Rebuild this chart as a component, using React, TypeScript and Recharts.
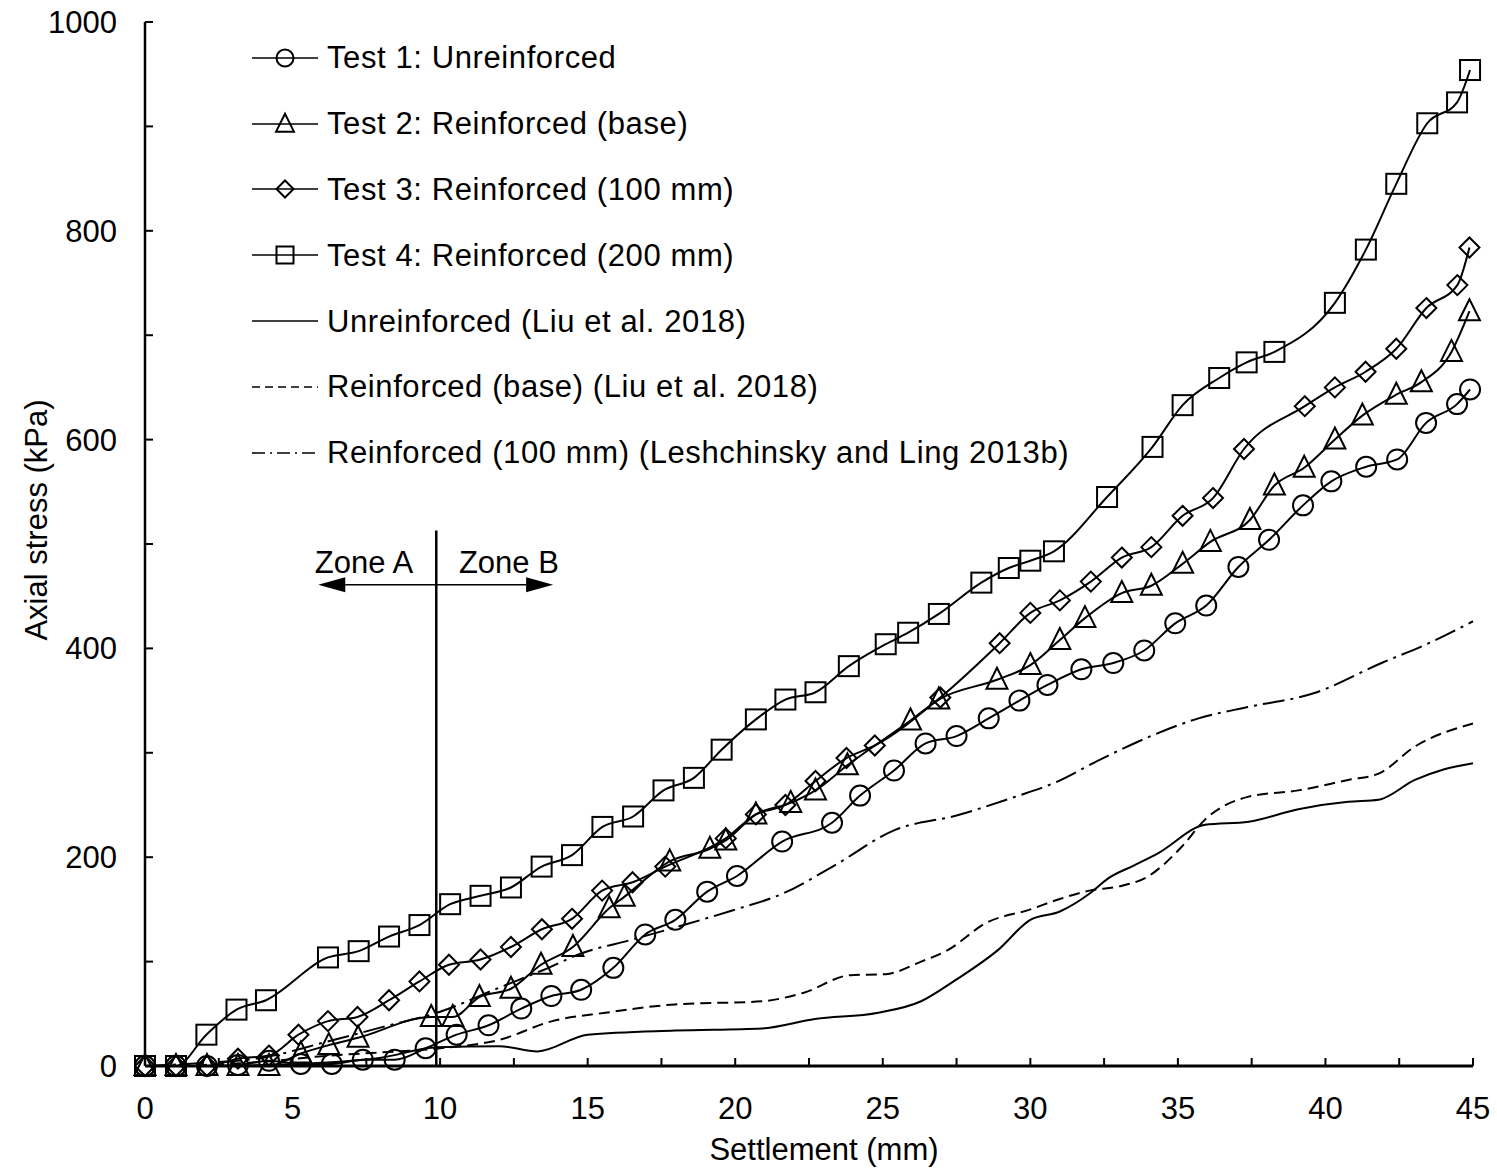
import React from 'react';
import { LineChart, Line, XAxis, YAxis, ReferenceLine, ReferenceDot, Legend } from 'recharts';

const FONT = '"Liberation Sans", Arial, Helvetica, sans-serif';
const FONT_SIZE = 31;

// Test 1: Unreinforced (circles)
const test1X = [0, 1.05, 2.1, 3.15, 4.2, 5.28, 6.33, 7.38, 8.46, 9.51, 10.56, 11.64, 12.75, 13.77, 14.78, 15.87, 16.95, 17.97, 19.05, 20.06, 21.59, 23.28, 24.23, 25.38, 26.45, 27.5, 28.59, 29.63, 30.58, 31.73, 32.81, 33.86, 34.91, 35.96, 37.05, 38.09, 39.24, 40.2, 41.38, 42.43, 43.41, 44.46, 44.9];
const test1Y = [0, 0, 0, 1, 5, 2, 2, 6, 6, 17, 30, 39, 55, 67, 73, 94, 126, 140, 167, 182, 215, 233, 259, 283, 309, 316, 333, 350, 365, 380, 386, 398, 424, 441, 478, 504, 537, 560, 574, 581, 616, 634, 648];

// Test 2: Reinforced (base) (triangles)
const test2X = [0, 1.05, 2.1, 3.15, 4.2, 5.28, 6.23, 7.22, 9.7, 10.43, 11.33, 12.4, 13.42, 14.5, 15.73, 16.24, 17.78, 19.14, 19.68, 20.7, 21.88, 22.72, 23.8, 25.94, 26.9, 28.87, 30.0, 31.0, 31.85, 33.1, 34.1, 35.16, 36.1, 37.44, 38.27, 39.28, 40.32, 41.25, 42.4, 43.25, 44.27, 44.88];
const test2Y = [0, 0, 0, 0, 0, 12, 20, 27, 47, 47, 66, 74, 97, 114, 151, 162, 196, 208, 216, 241, 252, 264, 288, 331, 351, 370, 384, 408, 429, 453, 460, 481, 502, 523, 556, 573, 600, 623, 643, 655, 684, 723];

// Test 3: Reinforced (100 mm) (diamonds)
const test3X = [0, 1.05, 2.1, 3.15, 4.2, 5.2, 6.2, 7.2, 8.27, 9.3, 10.3, 11.37, 12.4, 13.45, 14.47, 15.49, 16.52, 17.63, 19.68, 20.7, 21.7, 22.72, 23.77, 24.73, 26.95, 28.96, 30.0, 31.0, 32.05, 33.1, 34.1, 35.16, 36.19, 37.24, 39.3, 40.32, 41.36, 42.4, 43.42, 44.47, 44.88];
const test3Y = [0, 0, 0, 7, 10, 30, 43, 47, 63, 81, 97, 102, 114, 131, 141, 168, 176, 191, 218, 241, 250, 273, 295, 307, 353, 405, 434, 446, 464, 487, 497, 527, 544, 591, 632, 650, 665, 687, 726, 748, 784];

// Test 4: Reinforced (200 mm) (squares)
const test4X = [0, 1.05, 2.08, 3.1, 4.1, 6.2, 7.24, 8.27, 9.3, 10.34, 11.37, 12.4, 13.44, 14.47, 15.5, 16.54, 17.57, 18.6, 19.54, 20.7, 21.7, 22.72, 23.85, 25.1, 25.86, 26.9, 28.34, 29.27, 30.0, 30.8, 32.6, 34.14, 35.16, 36.4, 37.33, 38.27, 40.32, 41.37, 42.4, 43.45, 44.46, 44.9];
const test4Y = [0, 0, 30, 54, 63, 104, 110, 124, 135, 155, 163, 171, 191, 202, 229, 239, 264, 276, 303, 332, 351, 358, 383, 404, 415, 433, 463, 477, 484, 493, 545, 593, 633, 659, 674, 684, 731, 782, 845, 903, 923, 954];

// Unreinforced (Liu et al. 2018) - solid
const liuUnrX = [0, 2, 4, 6, 8, 9.9, 12.0, 13.3, 15.0, 17.96, 20.9, 22.7, 24.85, 26.3, 27.45, 28.9, 30, 31, 32, 32.65, 33.5, 34.34, 35.92, 37.4, 39.08, 40.77, 41.8, 43.03, 44, 45];
const liuUnrY = [0, 0, 1, 3, 8, 18, 19, 14, 30, 34, 36, 45, 51, 62, 82, 111, 140, 148, 165, 180, 192, 204, 231, 234, 246, 253, 255, 274, 284, 290];

// Reinforced (base) (Liu et al. 2018) - dashed
const liuBaseX = [0, 2, 4, 6.26, 8, 10, 12.0, 13.8, 15.6, 17.96, 20.9, 22.3, 23.9, 25.1, 26.3, 27.2, 28.5, 30, 31, 32, 33, 33.95, 35.13, 35.92, 37.4, 39.08, 40.77, 41.8, 43.03, 45];
const liuBaseY = [0, 1, 4, 10, 13, 17, 25, 43, 51, 59, 62, 70, 87, 88, 100, 111, 137, 150, 160, 168, 172, 181, 210, 236, 258, 264, 274, 280, 306, 328];

// Reinforced (100 mm) (Leshchinsky and Ling 2013b) - dash-dot
const leshX = [0, 2, 4, 6, 8, 10, 12, 13.5, 14.8, 16.5, 18, 19.9, 21.6, 23.3, 25.4, 27.5, 29.5, 30.8, 32.4, 34, 35.7, 37.4, 39.6, 41.9, 43.5, 45];
const leshY = [0, 3, 8, 22, 37, 52, 75, 92, 108, 121, 133, 149, 165, 191, 226, 240, 258, 271, 294, 315, 333, 344, 357, 386, 405, 426];

const xTicks = [0, 2.5, 5, 7.5, 10, 12.5, 15, 17.5, 20, 22.5, 25, 27.5, 30, 32.5, 35, 37.5, 40, 42.5, 45];
const xTickLabels = ['0', '', '5', '', '10', '', '15', '', '20', '', '25', '', '30', '', '35', '', '40', '', '45'];
const yTicks = [0, 100, 200, 300, 400, 500, 600, 700, 800, 900, 1000];
const yTickLabels = ['0', '', '200', '', '400', '', '600', '', '800', '', '1000'];

const zoneX = 9.87;
const zoneTop = 513;
const zoneArrowY = 461;
const zoneArrowLeft = 5.87;
const zoneArrowRight = 13.83;
const zoneLabelY = 483;
const zoneALabelX = 7.42;
const zoneBLabelX = 12.33;

type Shape = 'circle' | 'triangle' | 'diamond' | 'square' | 'none';

const zip = (xs: number[], ys: number[]) => xs.map((x, i) => ({ x, y: ys[i] }));

const series = [
  { name: 'Test 1: Unreinforced', data: zip(test1X, test1Y), shape: 'circle' as Shape, dash: undefined },
  { name: 'Test 2: Reinforced (base)', data: zip(test2X, test2Y), shape: 'triangle' as Shape, dash: undefined },
  { name: 'Test 3: Reinforced (100 mm)', data: zip(test3X, test3Y), shape: 'diamond' as Shape, dash: undefined },
  { name: 'Test 4: Reinforced (200 mm)', data: zip(test4X, test4Y), shape: 'square' as Shape, dash: undefined },
  { name: 'Unreinforced (Liu et al. 2018)', data: zip(liuUnrX, liuUnrY), shape: 'none' as Shape, dash: undefined },
  { name: 'Reinforced (base) (Liu et al. 2018)', data: zip(liuBaseX, liuBaseY), shape: 'none' as Shape, dash: '11 6' },
  { name: 'Reinforced (100 mm) (Leshchinsky and Ling 2013b)', data: zip(leshX, leshY), shape: 'none' as Shape, dash: '22 6 3 6' },
];

const legendDash: Record<string, string> = {
  '11 6': '8 5',
  '22 6 3 6': '13 5 2 5',
};

function Marker({ shape, cx, cy, k = 1 }: { shape: Shape; cx: number; cy: number; k?: number }) {
  const common = { fill: 'none', stroke: '#000', strokeWidth: 2 };
  if (cx == null || cy == null) return null;
  switch (shape) {
    case 'circle':
      return <circle cx={cx} cy={cy} r={10 * k} {...common} />;
    case 'square':
      return <rect x={cx - 10 * k} y={cy - 10 * k} width={20 * k} height={20 * k} {...common} />;
    case 'triangle':
      return (
        <polygon
          points={`${cx},${cy - 12 * k} ${cx - 10.5 * k},${cy + 9 * k} ${cx + 10.5 * k},${cy + 9 * k}`}
          {...common}
        />
      );
    case 'diamond':
      return (
        <polygon
          points={`${cx},${cy - 10 * k} ${cx + 10 * k},${cy} ${cx},${cy + 10 * k} ${cx - 10 * k},${cy}`}
          {...common}
        />
      );
    default:
      return null;
  }
}

function LegendContent() {
  return (
    <div style={{ fontFamily: FONT, fontSize: FONT_SIZE, color: '#000', letterSpacing: 0.6 }}>
      {series.map((s) => (
        <div key={s.name} style={{ display: 'flex', alignItems: 'center', height: 65.8 }}>
          <svg width={66} height={30} style={{ overflow: 'visible' }}>
            <line
              x1={0}
              y1={15}
              x2={66}
              y2={15}
              stroke="#000"
              strokeWidth={1.6}
              strokeDasharray={s.dash ? legendDash[s.dash] : undefined}
            />
            <Marker shape={s.shape} cx={33} cy={15} k={0.85} />
          </svg>
          <span style={{ marginLeft: 9, whiteSpace: 'nowrap', lineHeight: 1 }}>{s.name}</span>
        </div>
      ))}
    </div>
  );
}

const ArrowShape = (props: any) => {
  const { x1, y1, x2, y2 } = props;
  const dir = Math.sign(x2 - x1) || 1;
  const len = 27;
  const half = 7.5;
  return (
    <g>
      <line x1={x1} y1={y1} x2={x2 - dir * len} y2={y2} stroke="#000" strokeWidth={1.5} />
      <polygon points={`${x2},${y2} ${x2 - dir * len},${y2 - half} ${x2 - dir * len},${y2 + half}`} fill="#000" />
    </g>
  );
};

const YTitle = (props: any) => {
  const vb = props.viewBox || { x: 0, y: 22, width: 145, height: 1044 };
  const cx = vb.x + 36;
  const cy = vb.y + vb.height / 2 - 24;
  return (
    <text
      x={cx}
      y={cy}
      transform={`rotate(-90 ${cx} ${cy})`}
      textAnchor="middle"
      dominantBaseline="central"
      fontFamily={FONT}
      fontSize={FONT_SIZE}
      fill="#000"
    >
      Axial stress (kPa)
    </text>
  );
};

const tickStyle = { fontSize: FONT_SIZE, fill: '#000', fontFamily: FONT };

export default function App() {
  return (
    <div style={{ position: 'absolute', left: 0, top: 0, width: 1497, height: 1172, background: '#fff' }}>
      <LineChart width={1497} height={1172} margin={{ top: 22, right: 24, bottom: 0, left: 0 }}>
        <XAxis
          type="number"
          dataKey="x"
          domain={[0, 45]}
          ticks={xTicks}
          interval={0}
          tickFormatter={(v: number) => xTickLabels[xTicks.indexOf(v)] ?? ''}
          tick={tickStyle}
          tickSize={-8}
          tickMargin={39}
          height={106}
          axisLine={{ stroke: '#000', strokeWidth: 3 }}
          tickLine={{ stroke: '#000', strokeWidth: 2 }}
          label={{ value: 'Settlement (mm)', position: 'insideBottom', offset: 12, dx: 15, fontSize: FONT_SIZE, fill: '#000', fontFamily: FONT }}
        />
        <YAxis
          type="number"
          domain={[0, 1000]}
          ticks={yTicks}
          interval={0}
          tickFormatter={(v: number) => yTickLabels[yTicks.indexOf(v)] ?? ''}
          tick={tickStyle}
          tickSize={-8}
          tickMargin={36}
          width={145}
          axisLine={{ stroke: '#000', strokeWidth: 2.5 }}
          tickLine={{ stroke: '#000', strokeWidth: 2 }}
          label={{ content: YTitle }}
        />
        <Legend
          content={<LegendContent />}
          layout="vertical"
          align="center"
          verticalAlign="middle"
          wrapperStyle={{ left: 252, top: 25, width: 900 }}
        />
        {series.map((s) => (
          <Line
            key={s.name}
            name={s.name}
            data={s.data}
            dataKey="y"
            type="monotone"
            stroke="#000"
            strokeWidth={2}
            strokeDasharray={s.dash}
            dot={
              s.shape === 'none'
                ? false
                : (p: any) => <Marker key={`${s.name}-${p.index}`} shape={s.shape} cx={p.cx} cy={p.cy} />
            }
            activeDot={false}
            isAnimationActive={false}
          />
        ))}
        <ReferenceLine
          segment={[{ x: zoneX, y: 0 }, { x: zoneX, y: zoneTop }]}
          stroke="#000"
          strokeWidth={2.5}
          ifOverflow="visible"
        />
        <ReferenceLine
          segment={[{ x: zoneX, y: zoneArrowY }, { x: zoneArrowLeft, y: zoneArrowY }]}
          shape={ArrowShape}
          ifOverflow="visible"
        />
        <ReferenceLine
          segment={[{ x: zoneX, y: zoneArrowY }, { x: zoneArrowRight, y: zoneArrowY }]}
          shape={ArrowShape}
          ifOverflow="visible"
        />
        <ReferenceDot
          x={zoneALabelX}
          y={zoneLabelY}
          r={0}
          fill="none"
          stroke="none"
          label={{ value: 'Zone A', position: 'center', fontSize: FONT_SIZE, fill: '#000', fontFamily: FONT }}
        />
        <ReferenceDot
          x={zoneBLabelX}
          y={zoneLabelY}
          r={0}
          fill="none"
          stroke="none"
          label={{ value: 'Zone B', position: 'center', fontSize: FONT_SIZE, fill: '#000', fontFamily: FONT }}
        />
      </LineChart>
    </div>
  );
}
